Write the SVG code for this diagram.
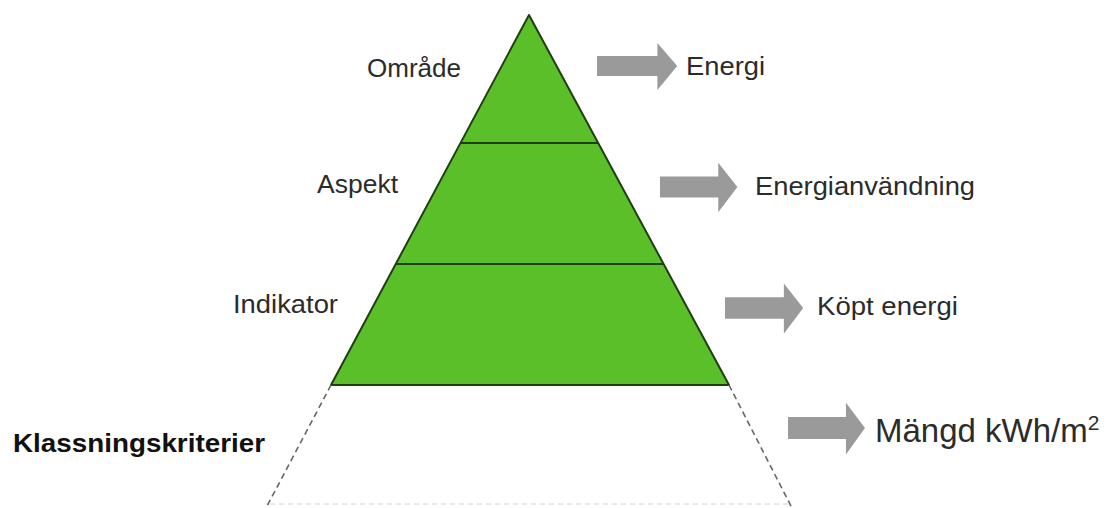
<svg xmlns="http://www.w3.org/2000/svg" width="1114" height="508" viewBox="0 0 1114 508">
  <style>
    .lbl { font-family: "Liberation Sans", Arial, sans-serif; font-size: 26px; fill: #2b2b2b; }
    .bold { font-weight: bold; fill: #111; }
    .big { font-size: 33px; }
    .arrow { fill: #9a9a9a; }
    .layer { fill: #5bbf2a; stroke: #1f3f12; stroke-width: 2; stroke-linejoin: round; }
    .divider { stroke: #1f3f12; stroke-width: 2; fill: none; }
    .dash { stroke: #666; stroke-width: 1.6; stroke-dasharray: 6 4; fill: none; }
  </style>
  <defs>
    <!-- block arrow, tip at origin-right, centred on y=0 -->
    <polygon id="blockArrow" class="arrow" points="0,-10 61,-10 61,-23 81,0 61,24 61,10 0,10"/>
  </defs>
  <rect width="1114" height="508" fill="#ffffff"/>

  <!-- pyramid -->
  <g id="pyramid">
    <polygon class="layer" points="529,15 729,385 331,385"/>
    <line class="divider" x1="460.5" y1="143" x2="598" y2="143"/>
    <line class="divider" x1="395.5" y1="264" x2="663.5" y2="264"/>
  </g>

  <!-- dashed extension below the pyramid -->
  <g id="criteria-frame">
    <line class="dash" x1="331" y1="385" x2="266" y2="508"/>
    <line class="dash" x1="729" y1="385" x2="792" y2="508"/>
    <line x1="270" y1="504" x2="790" y2="504" stroke="#e2e2e2" stroke-width="1.5" stroke-dasharray="5 4"/>
  </g>

  <!-- level names -->
  <g id="omrade"><text class="lbl" x="367" y="77" textLength="94" lengthAdjust="spacingAndGlyphs">Område</text></g>
  <g id="aspekt"><text class="lbl" x="317" y="193" textLength="81" lengthAdjust="spacingAndGlyphs">Aspekt</text></g>
  <g id="indikator"><text class="lbl" x="233" y="313" textLength="105" lengthAdjust="spacingAndGlyphs">Indikator</text></g>
  <g id="klassning"><text class="lbl bold" x="13" y="452" textLength="252" lengthAdjust="spacingAndGlyphs">Klassningskriterier</text></g>

  <!-- arrows -->
  <g id="connectors">
    <use href="#blockArrow" transform="translate(597,66) scale(0.99,1)"/>
    <use href="#blockArrow" transform="translate(660,187) scale(0.955,1.05)"/>
    <use href="#blockArrow" transform="translate(725,308) scale(0.965,1.07)"/>
    <use href="#blockArrow" transform="translate(788,428) scale(0.95,1.1)"/>
  </g>

  <!-- examples -->
  <g id="energi"><text class="lbl" x="686" y="75" textLength="79" lengthAdjust="spacingAndGlyphs">Energi</text></g>
  <g id="energianvandning"><text class="lbl" x="755" y="195" textLength="220" lengthAdjust="spacingAndGlyphs">Energianvändning</text></g>
  <g id="kopt-energi"><text class="lbl" x="817" y="315" textLength="141" lengthAdjust="spacingAndGlyphs">Köpt energi</text></g>
  <g id="mangd"><text class="lbl big" x="875" y="442">Mängd kWh/m<tspan font-size="21" dy="-12">2</tspan></text></g>
</svg>
